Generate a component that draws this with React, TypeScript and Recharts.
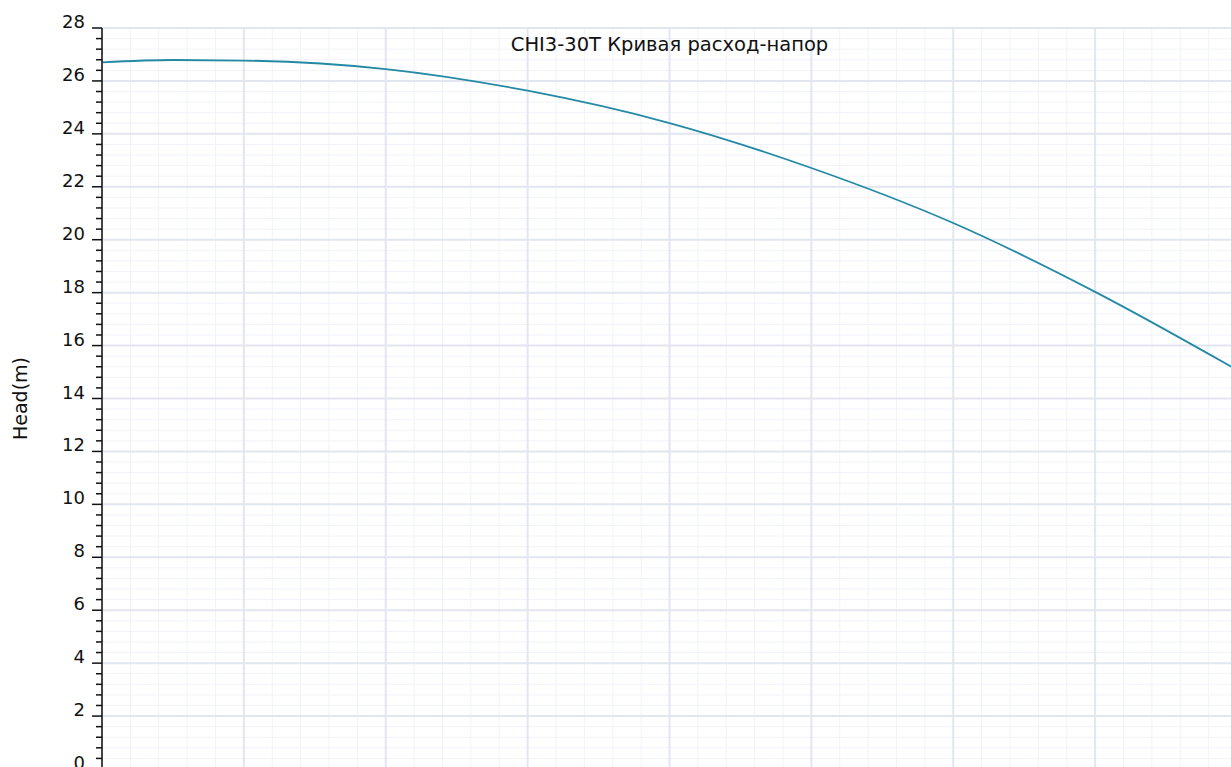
import { Line, LineChart, ReferenceLine, XAxis, YAxis } from "recharts";

// flow (x) and head (m)
const flow = [0, 0.25, 0.5, 1.0, 1.5, 2.0, 2.5, 3.0, 3.5, 4.0];
const head = [26.7, 26.79, 26.77, 26.45, 25.63, 24.41, 22.71, 20.63, 18.03, 15.08];

const xMajorTicks = [0, 0.5, 1, 1.5, 2, 2.5, 3, 3.5, 4];
const yMajorTicks = [0, 2, 4, 6, 8, 10, 12, 14, 16, 18, 20, 22, 24, 26, 28];
const xMinorStep = 0.1;
const yMinorStep = 0.4;

const title = "CHI3-30T Кривая расход-напор";
const yLabel = "Head(m)";

const data = flow.map((q, i) => ({ q, h: head[i] }));

const steps = (max: number, step: number) => {
  const out: number[] = [];
  const n = Math.round(max / step);
  for (let k = 0; k <= n; k++) out.push(Math.round(k * step * 1000) / 1000);
  return out;
};

const xMinor = steps(4, xMinorStep).filter((v) => !xMajorTicks.includes(v));
const yMinor = steps(28, yMinorStep).filter((v) => !yMajorTicks.includes(v));
const yAllTicks = steps(28, yMinorStep);

const FONT = "'DejaVu Sans', sans-serif";

const YTick = (props: any) => {
  const { x, y, payload } = props;
  const major = yMajorTicks.includes(payload.value);
  const axisX = x + 17;
  return (
    <g>
      <line
        x1={axisX - (major ? 10 : 6)}
        x2={axisX}
        y1={y}
        y2={y}
        stroke="#111"
        strokeWidth={1.5}
      />
      {major && (
        <text x={x} y={y} textAnchor="end" fontSize={18} fontFamily={FONT} fill="#111">
          {payload.value}
        </text>
      )}
    </g>
  );
};

// y-axis title plus chart title, centred over the plot
const Labels = (p: any) => {
  const vb = p.viewBox || { x: 42, y: 28, width: 60, height: 741 };
  const cx = vb.x - 22;
  const cy = vb.y + vb.height / 2;
  return (
    <g>
      <text
        x={cx}
        y={cy}
        transform={`rotate(-90 ${cx} ${cy})`}
        textAnchor="middle"
        dominantBaseline="central"
        fontSize={19}
        fontFamily={FONT}
        fill="#111"
      >
        {yLabel}
      </text>
      <text
        x={vb.x + vb.width + 1135 / 2}
        y={vb.y + 23}
        textAnchor="middle"
        fontSize={19.5}
        fontFamily={FONT}
        fill="#111"
      >
        {title}
      </text>
    </g>
  );
};

const App = () => {
  return (
    <div
      style={{
        position: "fixed",
        top: 0,
        left: 0,
        width: 1231,
        height: 767,
        overflow: "hidden",
        background: "#fff",
      }}
    >
      <LineChart
        width={1257}
        height={809}
        data={data}
        margin={{ top: 28, right: 20, left: 42, bottom: 0 }}
      >
        {xMinor.map((v) => (
          <ReferenceLine key={`xm${v}`} x={v} stroke="#f1f3fa" strokeWidth={1} />
        ))}
        {yMinor.map((v) => (
          <ReferenceLine key={`ym${v}`} y={v} stroke="#f1f3fa" strokeWidth={1} />
        ))}
        {xMajorTicks.map((v) => (
          <ReferenceLine key={`xM${v}`} x={v} stroke="#e2e6f1" strokeWidth={2} />
        ))}
        {yMajorTicks.map((v) => (
          <ReferenceLine key={`yM${v}`} y={v} stroke="#e2e6f1" strokeWidth={2} />
        ))}
        <XAxis
          dataKey="q"
          type="number"
          domain={[0, 4]}
          ticks={xMajorTicks}
          height={40}
          stroke="#111"
          tick={false}
        />
        <YAxis
          type="number"
          domain={[0, 28]}
          ticks={yAllTicks}
          interval={0}
          width={60}
          tickSize={10}
          tickMargin={7}
          tickLine={false}
          axisLine={{ stroke: "#111", strokeWidth: 1.5 }}
          tick={<YTick />}
          label={{ content: Labels }}
        />
        <Line
          type="monotone"
          dataKey="h"
          stroke="#2389a5"
          strokeWidth={1.8}
          dot={false}
          isAnimationActive={false}
        />
      </LineChart>
    </div>
  );
};

export default App;
